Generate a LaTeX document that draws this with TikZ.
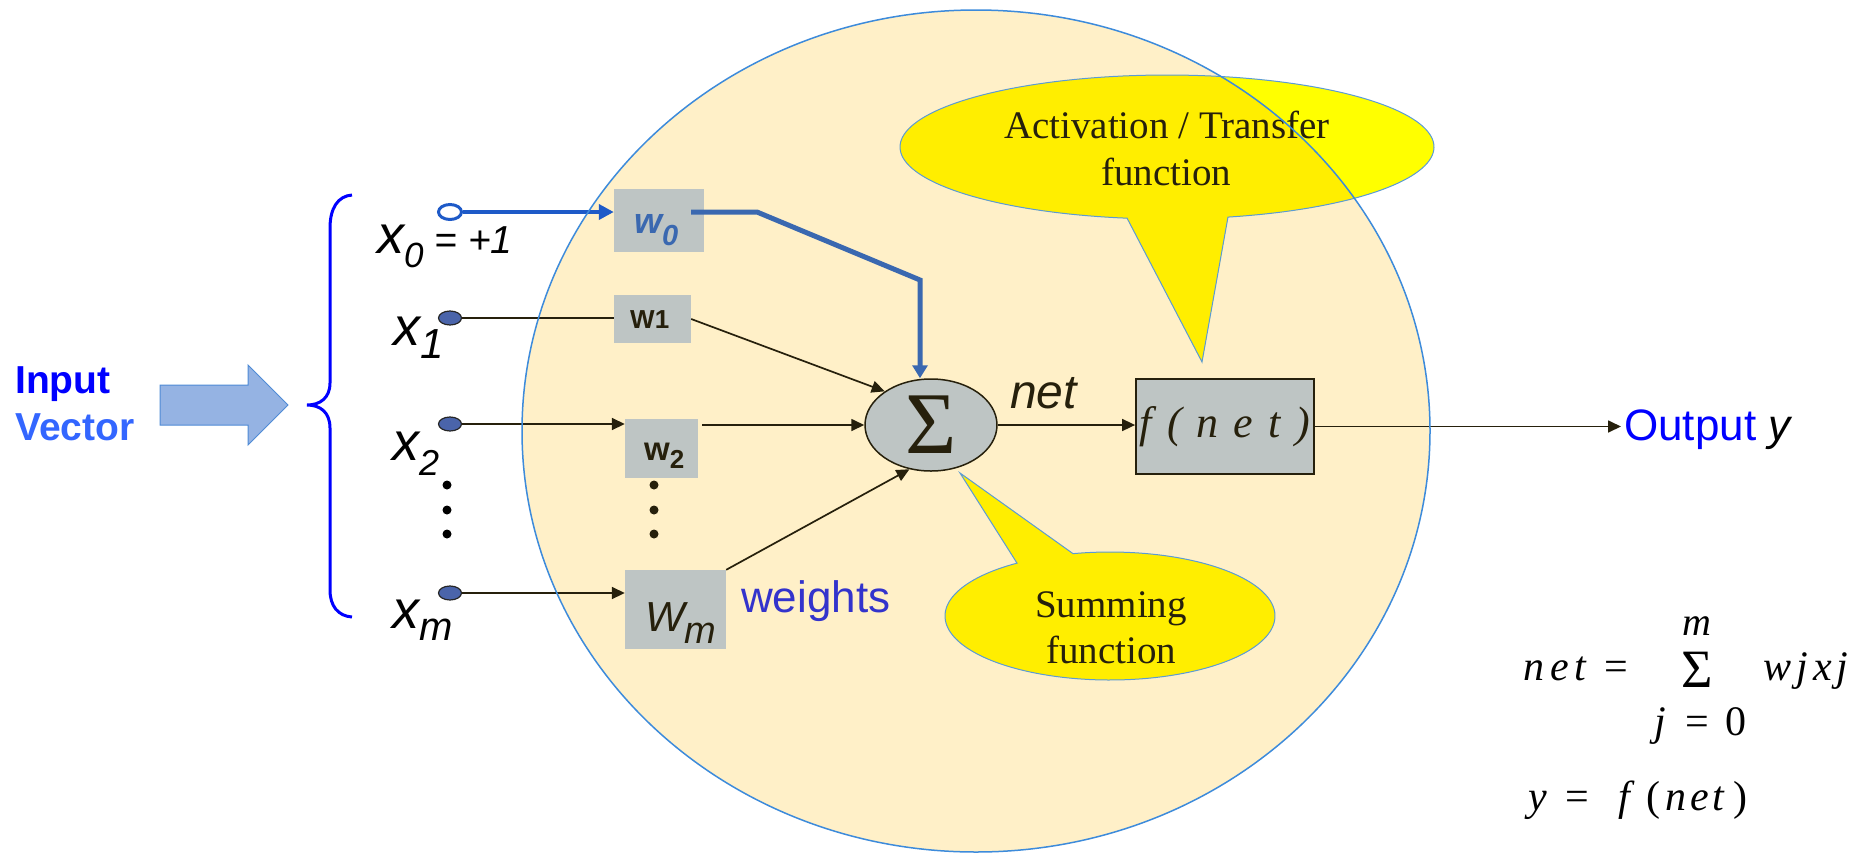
\documentclass[tikz,border=0pt]{standalone}
\usepackage{fontspec}
\setmainfont{Liberation Serif}
\setsansfont{Liberation Sans}
\usetikzlibrary{arrows.meta,calc,shapes.geometric}

\definecolor{circfill}{RGB}{255,240,200}
\definecolor{circline}{RGB}{61,139,219}
\definecolor{boxfill}{RGB}{190,197,196}
\definecolor{ink}{RGB}{38,32,12}
\definecolor{biasblue}{RGB}{30,90,200}
\definecolor{wzero}{RGB}{58,104,176}
\definecolor{nodeblue}{RGB}{74,100,170}
\definecolor{bubyel}{RGB}{255,255,0}
\definecolor{bubyelin}{RGB}{255,238,0}
\definecolor{bubline}{RGB}{91,155,213}
\definecolor{arrowfill}{RGB}{149,179,227}
\definecolor{arrowline}{RGB}{79,139,214}
\definecolor{inblue}{RGB}{0,0,255}
\definecolor{vecblue}{RGB}{51,102,255}
\definecolor{wtblue}{RGB}{51,51,204}

\newcommand{\fsz}[1]{\fontsize{#1}{#1}\selectfont}

\begin{document}
\begin{tikzpicture}[x=1pt,y=-1pt,
  wbox/.style={rectangle, fill=boxfill, inner sep=0pt},
  inpt/.style={ellipse, draw=black!85, line width=1.2pt, fill=nodeblue,
    minimum width=23pt, minimum height=14pt, inner sep=0pt},
  conn/.style={draw=ink, line width=1.7pt},
  tip/.style={-{Triangle[length=13pt,width=12pt]}},
  txt/.style={inner sep=0pt, anchor=base west},
  ctxt/.style={inner sep=0pt, anchor=base},
  eq/.style={inner sep=0pt, anchor=base, font=\fsz{42}\itshape},
  bubtxt/.style={inner sep=0pt, anchor=base, font=\fsz{39}, text=ink}]

\useasboundingbox (0,0) rectangle (1868,852);
\fill[white] (0,0) rectangle (1868,852);

% neuron body
\fill[circfill] (976,431) ellipse [x radius=454pt, y radius=421pt];

% activation callout: pure yellow outside the body, deeper inside it
\fill[bubyel] plot[domain=-261.4:76.8, samples=160]
  ({1167+267*cos(\x)},{147+72*sin(\x)}) -- (1202,362) -- cycle;
\begin{scope}
  \clip (976,431) ellipse [x radius=454pt, y radius=421pt];
  \fill[bubyelin] plot[domain=-261.4:76.8, samples=160]
    ({1167+267*cos(\x)},{147+72*sin(\x)}) -- (1202,362) -- cycle;
\end{scope}
\draw[bubline, line width=1pt] plot[domain=-261.4:76.8, samples=160]
  ({1167+267*cos(\x)},{147+72*sin(\x)}) -- (1202,362) -- cycle;

% summing callout
\filldraw[fill=bubyelin, draw=bubline, line width=1pt]
  plot[domain=-102.96:235.7, samples=160]
  ({1110+165*cos(\x)},{616+64*sin(\x)}) -- (960,473) -- cycle;

\node[bubtxt] (act1) at (1167,138) {Activation / Transfer};
\node[bubtxt] (act2) at (1166,185) {function};
\node[bubtxt] (sum1) at (1111,617) {Summing};
\node[bubtxt] (sum2) at (1111,663) {function};

% input vector label and arrow
\node[txt, font=\sffamily\bfseries\fsz{39}, text=inblue] (lblin) at (15,393) {Input};
\node[txt, font=\sffamily\bfseries\fsz{39}, text=vecblue] (lblvec) at (15,440) {Vector};
\filldraw[fill=arrowfill, draw=arrowline, line width=1pt]
  (160,385) -- (248,385) -- (248,365) -- (288,405) -- (248,445) -- (248,425) -- (160,425) -- cycle;

% brace
\draw[inblue, line width=3pt] (352,195) .. controls (338,196) and (330,208) .. (330,228)
  -- (330,383) .. controls (330,398) and (320,405) .. (307,405)
  .. controls (320,405) and (330,412) .. (330,428)
  -- (330,590) .. controls (330,606) and (338,616) .. (352,617);

% weight boxes
\node[wbox, minimum width=90pt, minimum height=63pt] (w0) at (659,220.5) {};
\node[wbox, minimum width=77pt, minimum height=48pt] (w1) at (652.5,319) {};
\node[wbox, minimum width=73pt, minimum height=59pt] (w2) at (661.5,448.5) {};
\node[wbox, minimum width=101pt, minimum height=79pt] (wm) at (675.5,609.5) {};

% summing junction and transfer box
\node[ellipse, draw=ink, line width=1.5pt, fill=boxfill, minimum width=132pt,
  minimum height=92pt, inner sep=0pt, font=\fsz{88}, text=ink] (sig) at (931,425) {Σ};
\node[rectangle, draw=ink, line width=1.8pt, fill=boxfill, minimum width=178pt,
  minimum height=95pt, inner sep=0pt, font=\fsz{44}\itshape, text=ink] (fbox) at (1225,426.5)
  {f\hspace{15pt}(\hspace{15pt}n\hspace{15pt}e\hspace{15pt}t\hspace{15pt})};

% inputs
\node[ellipse, draw=biasblue, line width=3pt, fill=white, minimum width=23pt,
  minimum height=15pt, inner sep=0pt] (in0) at (450,212) {};
\node[inpt] (in1) at (450,318) {};
\node[inpt] (in2) at (450,424) {};
\node[inpt] (inm) at (450,593) {};

% output label
\node[txt, inner sep=3pt, font=\sffamily\fsz{44}, text=inblue] (out) at (1621,440)
  {Output \textcolor{black}{\itshape y}};

% connectors
\draw[biasblue, line width=4pt, -{Triangle[length=15pt,width=15pt]}]
  (in0.east) -- (in0.east -| w0.west);
\coordinate (w0k1) at (757,212);
\coordinate (w0k2) at (920,280);
\draw[wzero, line width=5pt, -{Triangle[length=13pt,width=15pt]}]
  ($(w0.east |- in0)+(-13,0)$) -- (w0k1) -- (w0k2) -- (w0k2 |- sig.north);
\draw[conn] (in1.east) -- (in1.east -| w1.west);
\draw[conn,tip] (w1.east) -- (sig.144);
\draw[conn,tip] (in2.east) -- (in2.east -| w2.west);
\draw[conn,tip] ($(w2.east |- sig.west)+(4,0)$) -- (sig.west);
\draw[conn,tip] (inm.east) -- (inm.east -| wm.west);
\draw[conn,tip] (wm.north east) -- (sig.244);
\draw[conn,tip] (sig.east) -- (sig.east -| fbox.west);
\draw[conn,tip] (fbox.east) -- (fbox.east -| out.west);

% input labels
\node[txt, font=\sffamily\itshape\fsz{54}] (lx0) at (377,253)
  {x\raisebox{-14pt}{\fsz{35}0}\fsz{39} = +1};
\node[txt, font=\sffamily\itshape\fsz{54}] (lx1) at (393,345) {x\raisebox{-13pt}{\fsz{42}1}};
\node[txt, font=\sffamily\itshape\fsz{54}] (lx2) at (392,460) {x\raisebox{-15pt}{\fsz{36}2}};
\node[txt, font=\sffamily\itshape\fsz{54}] (lxm) at (392,628) {x\raisebox{-12pt}{\fsz{40}m}};

% weight labels
\node[txt, font=\sffamily\bfseries\itshape\fsz{36}, text=wzero] (lw0) at (634,233)
  {w\raisebox{-12pt}{\fsz{29}0}};
\node[txt, font=\sffamily\bfseries\fsz{26}, text=ink] (lw1) at (630,328) {W1};
\node[txt, font=\sffamily\bfseries\fsz{33}, text=ink] (lw2) at (644,460)
  {w\raisebox{-8pt}{\fsz{26}2}};
\node[txt, font=\sffamily\itshape\fsz{42}, text=ink] (lwm) at (645,631)
  {W\raisebox{-12pt}{\fsz{38}m}};
\node[txt, font=\sffamily\fsz{44}, text=wtblue] (lwts) at (741,612) {weights};
\node[txt, font=\sffamily\itshape\fsz{48}, text=ink] (lnet) at (1010,408) {net};

% ellipsis dots
\foreach \yy in {485,510,534} {
  \fill[black] (447,\yy) circle[radius=4.5pt];
  \fill[ink] (654,\yy) circle[radius=4.5pt];
}

% formulas
\node[eq] (eqnet) at (1555,680) {n\hspace{6pt}e\hspace{6pt}t};
\node[eq, font=\fsz{42}] (eqeq1) at (1616,680) {=};
\node[ctxt, font=\fsz{54}] (eqsum) at (1697,687) {Σ};
\node[eq, font=\fsz{40}\itshape] (eqm) at (1697,635) {m};
\node[eq] (eqwx) at (1806,680) {w\hspace{5pt}j\hspace{5pt}x\hspace{5pt}j};
\node[eq] (eqj) at (1660,735) {j};
\node[eq, font=\fsz{42}] (eqeq2) at (1697,735) {=};
\node[eq, font=\fsz{42}] (eqzero) at (1736,735) {0};
\node[eq] (eqy) at (1538,810) {y};
\node[eq, font=\fsz{42}] (eqeq3) at (1577,810) {=};
\node[eq] (eqf) at (1624,810) {f};
\node[eq, font=\fsz{42}] (eqlp) at (1653,810) {(};
\node[eq] (eqnet2) at (1695,810) {n\hspace{4pt}e\hspace{4pt}t};
\node[eq, font=\fsz{42}] (eqrp) at (1740,810) {)};

% outline of the neuron body on top
\draw[circline, line width=1.5pt] (976,431) ellipse [x radius=454pt, y radius=421pt];
\end{tikzpicture}
\end{document}
